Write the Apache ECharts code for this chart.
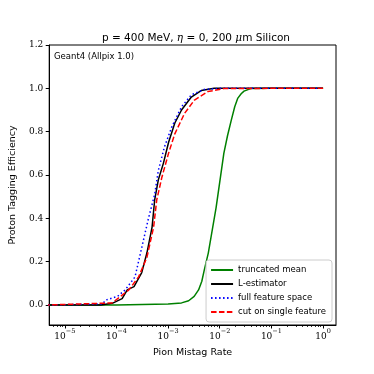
<!DOCTYPE html>
<html>
<head>
<meta charset="utf-8">
<script src="https://cdn.jsdelivr.net/npm/echarts@6/dist/echarts.min.js"></script>
<style>
html, body { margin: 0; padding: 0; background: #fff; }
#main { width: 374px; height: 374px; }
</style>
</head>
<body>
<div id="main"></div>
<script>
// truncated mean
var truncX = [4e-6, 1e-4, 1e-3, 1.82e-3, 2.5e-3, 3.2e-3, 3.89e-3, 4.5e-3, 5.0e-3, 6.0e-3, 8.5e-3, 1.2e-2, 1.41e-2, 1.66e-2, 1.95e-2, 2.24e-2, 2.6e-2, 2.95e-2, 3.98e-2, 1e-1, 1];
var truncY = [0, 0, 0.005, 0.01, 0.02, 0.04, 0.07, 0.11, 0.16, 0.24, 0.45, 0.70, 0.78, 0.85, 0.915, 0.955, 0.975, 0.987, 0.999, 1, 1];
// L-estimator
var lestX = [4e-6, 5e-5, 8.3e-5, 1.29e-4, 1.62e-4, 2.19e-4, 3.09e-4, 3.89e-4, 4.9e-4, 5.5e-4, 6.46e-4, 8.13e-4, 1.02e-3, 1.35e-3, 1.82e-3, 2.82e-3, 4.37e-3, 7.8e-3, 1e-1, 1];
var lestY = [0, 0, 0.008, 0.03, 0.07, 0.085, 0.15, 0.24, 0.36, 0.485, 0.577, 0.655, 0.75, 0.84, 0.90, 0.96, 0.99, 1.0, 1, 1];
// full feature space
var fullX = [4e-6, 5.4e-5, 6.2e-5, 1.05e-4, 1.48e-4, 2.29e-4, 3.09e-4, 4.17e-4, 5.5e-4, 6.46e-4, 8.51e-4, 1.17e-3, 1.82e-3, 2.82e-3, 5.0e-3, 1e-2, 1];
var fullY = [0, 0.005, 0.023, 0.04, 0.07, 0.13, 0.265, 0.40, 0.51, 0.62, 0.73, 0.82, 0.915, 0.97, 0.995, 1, 1];
// cut on single feature
var cutX = [4e-6, 8.3e-5, 1.74e-4, 2.69e-4, 3.89e-4, 5.25e-4, 6.03e-4, 7.59e-4, 1.02e-3, 1.35e-3, 2.09e-3, 3.24e-3, 5.9e-3, 1.2e-2, 1e-1, 1];
var cutY = [0, 0.01, 0.07, 0.13, 0.22, 0.36, 0.485, 0.59, 0.70, 0.79, 0.885, 0.946, 0.985, 0.999, 1, 1];

var yTicks = [0, 0.2, 0.4, 0.6, 0.8, 1.0, 1.2];
var xMajor = [1e-5, 1e-4, 1e-3, 1e-2, 1e-1, 1];
var xMinor = [6e-6, 7e-6, 8e-6, 9e-6,
	2e-5, 3e-5, 4e-5, 5e-5, 6e-5, 7e-5, 8e-5, 9e-5,
	2e-4, 3e-4, 4e-4, 5e-4, 6e-4, 7e-4, 8e-4, 9e-4,
	2e-3, 3e-3, 4e-3, 5e-3, 6e-3, 7e-3, 8e-3, 9e-3,
	2e-2, 3e-2, 4e-2, 5e-2, 6e-2, 7e-2, 8e-2, 9e-2,
	0.2, 0.3, 0.4, 0.5, 0.6, 0.7, 0.8, 0.9];

var names = ['truncated mean', 'L-estimator', 'full feature space', 'cut on single feature'];

function pairs(xs, ys) {
	var out = [];
	for (var i = 0; i < xs.length; i++) {
		out.push([xs[i], ys[i]]);
	}
	return out;
}

var sans = 'DejaVu Sans';
var serif = 'DejaVu Serif';
var xmin = 5.0e-6, xmax = 1.78;

var myChart = echarts.init(document.getElementById('main'));
myChart.setOption({
	animation: false,
	title: {
		text: '{a|p = 400 MeV, }{i|η}{a| = 0, 200 }{i|μ}{a|m Silicon}',
		left: 191,
		textAlign: 'center',
		top: 28,
		textStyle: {
			fontWeight: 'normal',
			rich: {
				a: { fontFamily: sans, fontSize: 10.5, fontWeight: 'normal', color: '#000' },
				i: { fontFamily: serif, fontStyle: 'italic', fontWeight: 'normal', fontSize: 10.5, color: '#000' }
			}
		}
	},
	grid: {
		left: 46,
		right: 38,
		top: 45,
		bottom: 49,
		show: true,
		borderColor: '#000',
		borderWidth: 1
	},
	legend: {
		orient: 'vertical',
		right: 42,
		bottom: 52,
		itemWidth: 22,
		itemHeight: 8,
		itemGap: 4,
		padding: [5, 6, 5, 4],
		backgroundColor: 'rgba(255,255,255,0.8)',
		borderColor: '#ccc',
		borderWidth: 1,
		borderRadius: 3,
		itemStyle: { opacity: 0, borderWidth: 0 },
		data: names,
		textStyle: { fontFamily: sans, fontSize: 8.5, color: '#000', lineHeight: 10 }
	},
	graphic: [{
		type: 'text',
		left: 54,
		top: 52,
		style: { text: 'Geant4 (Allpix 1.0)', fontFamily: sans, fontSize: 8.5, fill: '#000' }
	}],
	xAxis: [{
		type: 'log',
		min: xmin,
		max: xmax,
		name: 'Pion Mistag Rate',
		nameLocation: 'middle',
		nameGap: 23,
		nameTextStyle: { fontFamily: sans, fontSize: 9.5, color: '#000' },
		axisLine: { onZero: false, lineStyle: { color: '#000', width: 1 } },
		axisTick: { length: 3.5, customValues: xMajor, lineStyle: { color: '#000' } },
		axisLabel: {
			customValues: xMajor,
			margin: 3,
			formatter: function (v) {
				var e = Math.round(Math.log10(v));
				return '{b|10}{s|' + (e < 0 ? '\u2212' + (-e) : e) + '}';
			},
			rich: {
				b: { fontFamily: serif, fontSize: 9, color: '#000', verticalAlign: 'bottom', lineHeight: 13 },
				s: { fontFamily: serif, fontSize: 6.5, color: '#000', verticalAlign: 'top', lineHeight: 7 }
			}
		},
		splitLine: { show: false }
	}, {
		type: 'log',
		min: xmin,
		max: xmax,
		position: 'bottom',
		axisLine: { show: false, onZero: false },
		axisTick: { length: 2, customValues: xMinor, lineStyle: { color: '#000', width: 0.8 } },
		axisLabel: { show: false },
		splitLine: { show: false }
	}],
	yAxis: {
		type: 'value',
		min: -0.092,
		max: 1.2,
		name: 'Proton Tagging Efficiency',
		nameLocation: 'middle',
		nameGap: 26,
		nameTextStyle: { fontFamily: sans, fontSize: 9.5, color: '#000' },
		axisLine: { show: true, onZero: false, lineStyle: { color: '#000', width: 1 } },
		axisTick: { show: true, length: 3.5, customValues: yTicks, lineStyle: { color: '#000' } },
		axisLabel: {
			customValues: yTicks,
			margin: 6,
			fontFamily: serif,
			fontSize: 9,
			color: '#000',
			formatter: function (v) { return v.toFixed(1); }
		},
		splitLine: { show: false }
	},
	series: [{
		name: names[0],
		type: 'line',
		data: pairs(truncX, truncY),
		symbol: 'none',
		lineStyle: { color: '#008000', width: 1.5 },
		itemStyle: { color: '#008000' }
	}, {
		name: names[1],
		type: 'line',
		data: pairs(lestX, lestY),
		symbol: 'none',
		lineStyle: { color: '#000', width: 1.5 },
		itemStyle: { color: '#000' }
	}, {
		name: names[2],
		type: 'line',
		data: pairs(fullX, fullY),
		symbol: 'none',
		lineStyle: { color: '#0000ff', width: 1.5, type: [1.5, 2.5] },
		itemStyle: { color: '#0000ff' }
	}, {
		name: names[3],
		type: 'line',
		data: pairs(cutX, cutY),
		symbol: 'none',
		lineStyle: { color: '#ff0000', width: 1.5, type: [5.5, 2.4] },
		itemStyle: { color: '#ff0000' }
	}]
});
</script>
</body>
</html>
